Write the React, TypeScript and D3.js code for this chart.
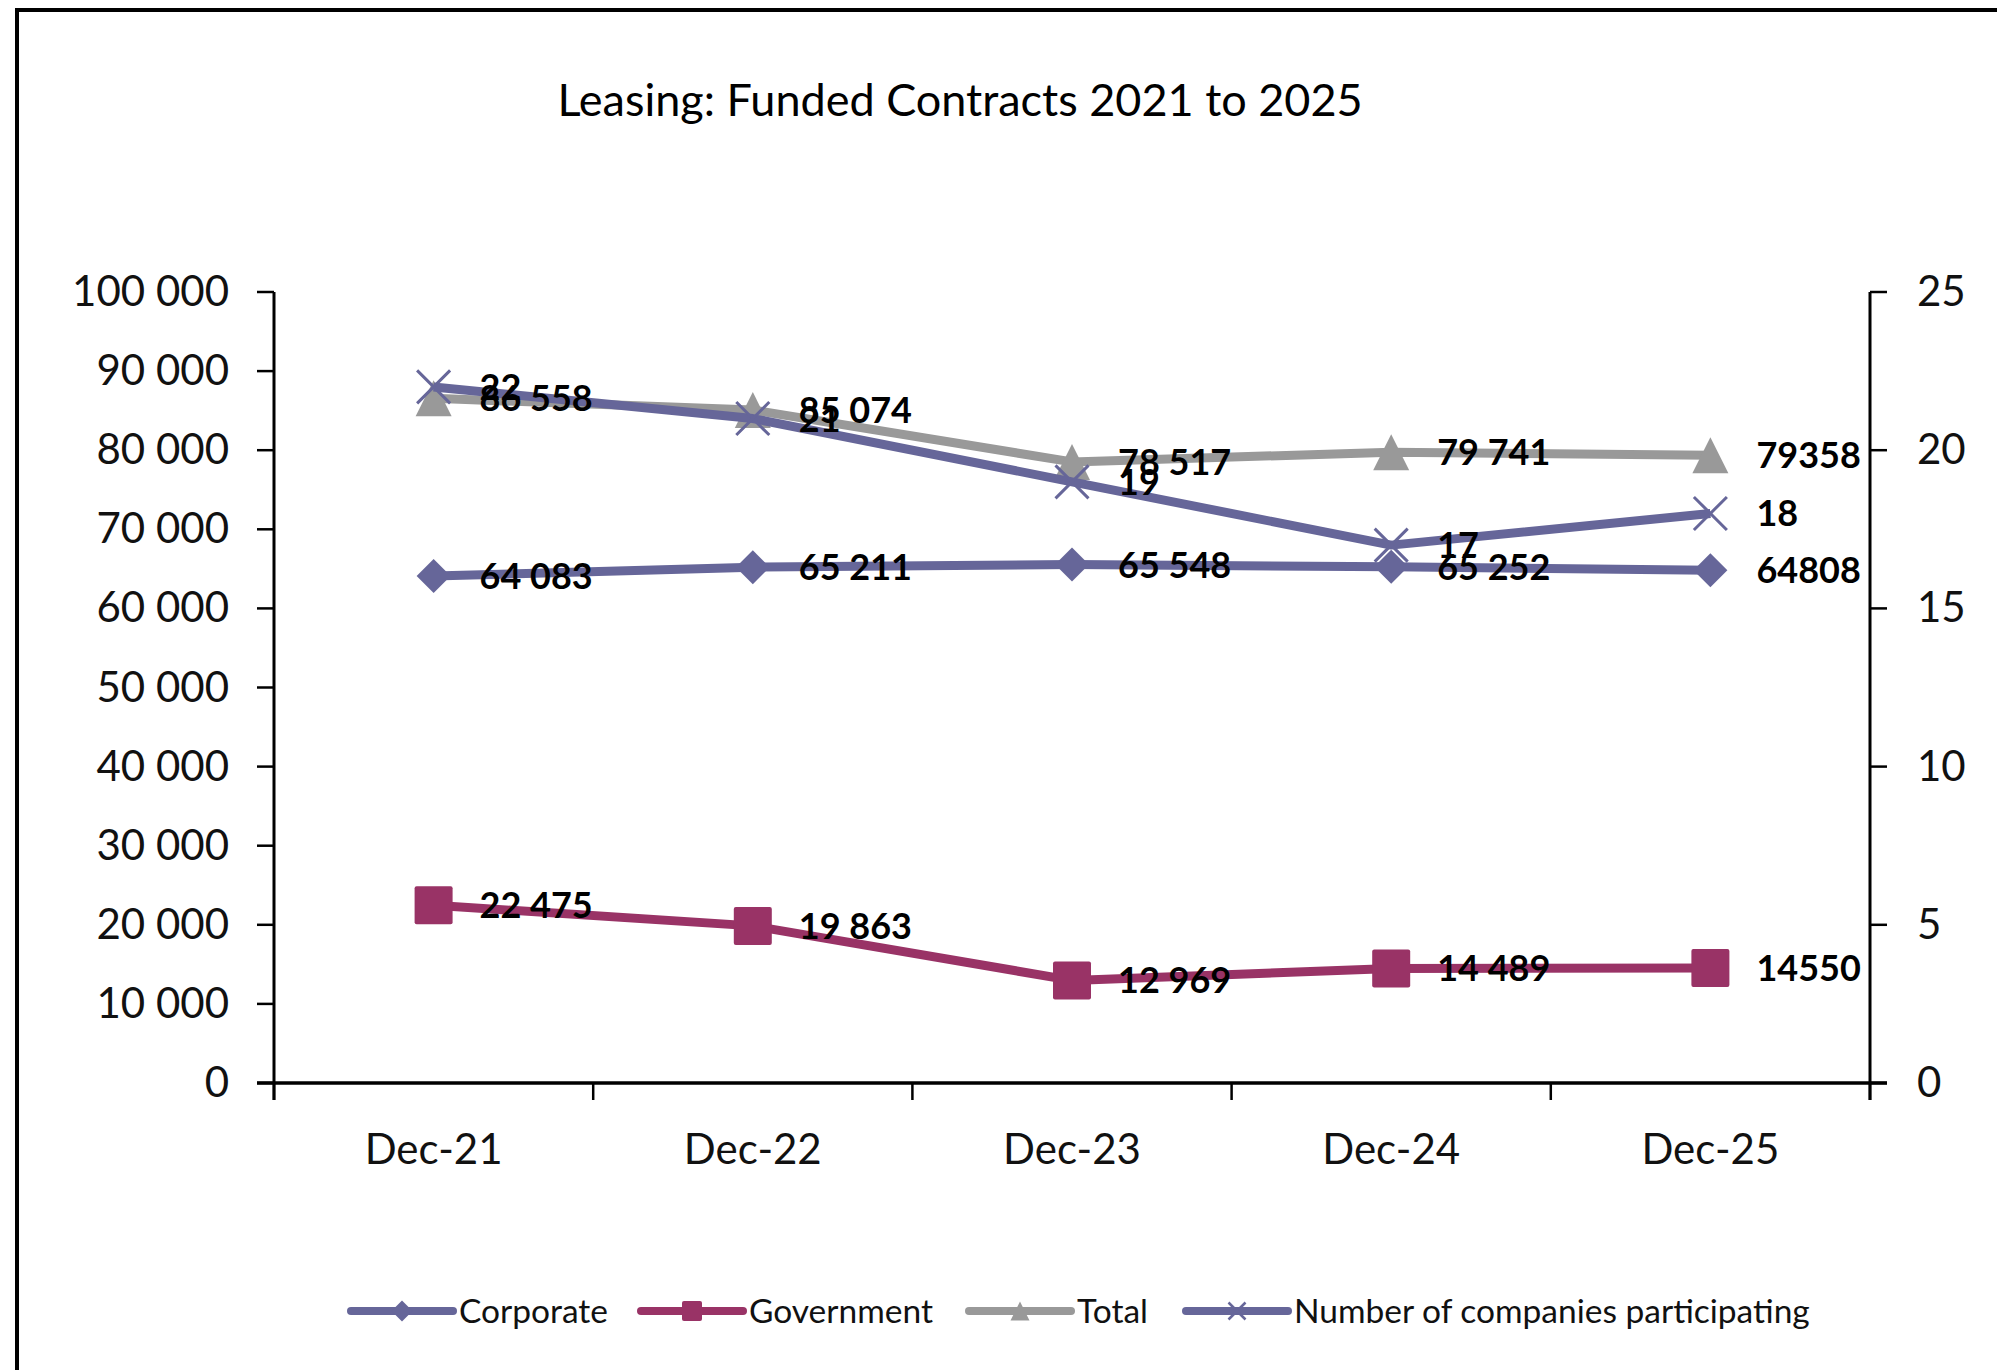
import React from "react";
import * as d3 from "d3";

const categories = ["Dec-21", "Dec-22", "Dec-23", "Dec-24", "Dec-25"];
const corporate = [64083, 65211, 65548, 65252, 64808];
const government = [22475, 19863, 12969, 14489, 14550];
const total = [86558, 85074, 78517, 79741, 79358];
const companies = [22, 21, 19, 17, 18];
const corporateLabels = ["64 083", "65 211", "65 548", "65 252", "64808"];
const governmentLabels = ["22 475", "19 863", "12 969", "14 489", "14550"];
const totalLabels = ["86 558", "85 074", "78 517", "79 741", "79358"];
const companiesLabels = ["22", "21", "19", "17", "18"];
const leftTicks = [0, 10000, 20000, 30000, 40000, 50000, 60000, 70000, 80000, 90000, 100000];
const rightTicks = [0, 5, 10, 15, 20, 25];
const title = "Leasing: Funded Contracts 2021 to 2025";
const legendNames = ["Corporate", "Government", "Total", "Number of companies participating"];

const W = 1997, H = 1370;
const L = 274, R = 1870, T = 292, B = 1083;
const FONT = "Lato, 'Open Sans', sans-serif";
const C_CORP = "#666699", C_GOV = "#993366", C_TOT = "#999999", C_NUM = "#666699";

function Marker({ type, x, y, s, color, sw = 3 }: { type: string; x: number; y: number; s: number; color: string; sw?: number }) {
  const h = s / 2;
  if (type === "diamond") return <path d={`M${x},${y - h}L${x + h},${y}L${x},${y + h}L${x - h},${y}Z`} fill={color} />;
  if (type === "square") return <rect x={x - h} y={y - h} width={s} height={s} fill={color} rx={2} />;
  if (type === "triangle") return <path d={`M${x},${y - h}L${x + h},${y + h}L${x - h},${y + h}Z`} fill={color} />;
  return <path d={`M${x - h},${y - h}L${x + h},${y + h}M${x + h},${y - h}L${x - h},${y + h}`} stroke={color} strokeWidth={sw} fill="none" />;
}

export default function App() {
  const x = d3.scaleBand<string>().domain(categories).range([L, R]).paddingInner(0).paddingOuter(0);
  const cx = (c: string) => (x(c) as number) + x.bandwidth() / 2;
  const yL = d3.scaleLinear().domain([0, 100000]).range([B, T]);
  const yR = d3.scaleLinear().domain([0, 25]).range([B, T]);
  const fmt = (v: number) => d3.format(",")(v).replace(/,/g, " ");
  const line = d3.line<[number, number]>().x(d => d[0]).y(d => d[1]);

  const series = [
    { vals: corporate, labels: corporateLabels, y: yL, color: C_CORP, marker: "diamond", size: 34 },
    { vals: government, labels: governmentLabels, y: yL, color: C_GOV, marker: "square", size: 38 },
    { vals: total, labels: totalLabels, y: yL, color: C_TOT, marker: "triangle", size: 36 },
    { vals: companies, labels: companiesLabels, y: yR, color: C_NUM, marker: "x", size: 33 },
  ];

  const bounds = categories.map(c => x(c) as number).concat([R]);

  const legendItems = [
    { name: legendNames[0], color: C_CORP, marker: "diamond", x0: 351, s: 21 },
    { name: legendNames[1], color: C_GOV, marker: "square", x0: 641, s: 20 },
    { name: legendNames[2], color: C_TOT, marker: "triangle", x0: 969, s: 19 },
    { name: legendNames[3], color: C_NUM, marker: "x", x0: 1186, s: 17 },
  ];
  const LY = 1311;

  return (
    <svg width={W} height={H} style={{ position: "absolute", left: 0, top: 0, background: "#fff" }} fontFamily={FONT}>
      <rect x={0} y={0} width={W} height={H} fill="#fff" />
      <rect x={17} y={10} width={W + 50} height={H + 50} fill="none" stroke="#000" strokeWidth={4} />
      <text x={960} y={116} textAnchor="middle" fontSize={45} fill="#000">{title}</text>

      {/* left axis */}
      <line x1={L} x2={L} y1={T} y2={B + 17} stroke="#000" strokeWidth={3} />
      {leftTicks.map(t => (
        <g key={"l" + t}>
          <line x1={L - 17} x2={L} y1={yL(t)} y2={yL(t)} stroke="#000" strokeWidth={2.5} />
          <text x={229} y={yL(t) + 14} textAnchor="end" fontSize={42} fill="#111">{fmt(t)}</text>
        </g>
      ))}
      {/* right axis */}
      <line x1={R} x2={R} y1={T} y2={B + 17} stroke="#000" strokeWidth={3} />
      {rightTicks.map(t => (
        <g key={"r" + t}>
          <line x1={R} x2={R + 17} y1={yR(t)} y2={yR(t)} stroke="#000" strokeWidth={2.5} />
          <text x={1917} y={yR(t) + 14} textAnchor="start" fontSize={42} fill="#111">{t}</text>
        </g>
      ))}
      {/* x axis */}
      <line x1={L - 17} x2={R + 17} y1={B} y2={B} stroke="#000" strokeWidth={3.5} />
      {bounds.map((b, i) => (
        <line key={"xt" + i} x1={b} x2={b} y1={B} y2={B + 17} stroke="#000" strokeWidth={2.5} />
      ))}
      {categories.map(c => (
        <text key={c} x={cx(c)} y={1164} textAnchor="middle" fontSize={42} fill="#111">{c}</text>
      ))}

      {/* series */}
      {series.map((s, si) => (
        <g key={"s" + si}>
          <path d={line(categories.map((c, i) => [cx(c), s.y(s.vals[i])]))!} fill="none" stroke={s.color} strokeWidth={9} strokeLinejoin="round" />
          {categories.map((c, i) => (
            <Marker key={c} type={s.marker} x={cx(c)} y={s.y(s.vals[i])} s={s.size} color={s.color} />
          ))}
        </g>
      ))}
      {series.map((s, si) => (
        <g key={"lab" + si}>
          {categories.map((c, i) => (
            <text key={c} x={cx(c) + 46} y={s.y(s.vals[i]) + 13} fontSize={36} fontWeight="bold" fill="#000">{s.labels[i]}</text>
          ))}
        </g>
      ))}

      {/* legend */}
      {legendItems.map(it => (
        <g key={it.name}>
          <line x1={it.x0} x2={it.x0 + 102} y1={LY} y2={LY} stroke={it.color} strokeWidth={8} strokeLinecap="round" />
          <Marker type={it.marker} x={it.x0 + 51} y={LY} s={it.s} color={it.color} sw={2.5} />
          <text x={it.x0 + 108} y={LY + 12} fontSize={33.5} fill="#111">{it.name}</text>
        </g>
      ))}
    </svg>
  );
}
